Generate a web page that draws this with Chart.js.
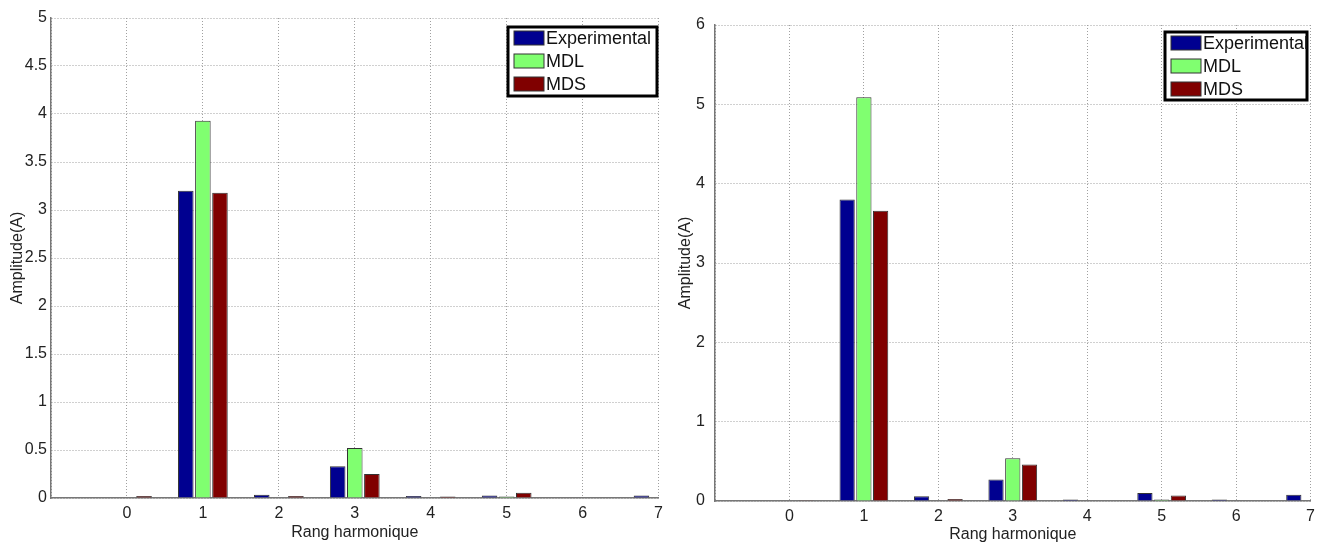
<!DOCTYPE html>
<html>
<head>
<meta charset="utf-8">
<script src="https://cdn.jsdelivr.net/npm/chart.js@4.4.1/dist/chart.umd.min.js"></script>
<style>
  html, body { margin: 0; padding: 0; background: #fff; }
  #wrap { position: relative; width: 1321px; height: 544px; }
  .box { position: absolute; top: 0; height: 544px; }
</style>
</head>
<body>
<div id="wrap">
  <div class="box" style="left:0;width:669px"><canvas id="left"></canvas></div>
  <div class="box" style="left:660px;width:661px"><canvas id="right"></canvas></div>
</div>
<script>
const harmonics = [0, 1, 2, 3, 4, 5, 6, 7];
const seriesNames = ['Experimental', 'MDL', 'MDS'];
const seriesColors = ['#000090', '#80ff70', '#800000'];

// left figure
const expLeft = [0.005, 3.2, 0.035, 0.33, 0.02, 0.025, 0.005, 0.025];
const mdlLeft = [0.005, 3.93, 0.005, 0.52, 0.005, 0.015, 0.005, 0.005];
const mdsLeft = [0.02, 3.18, 0.02, 0.25, 0.015, 0.055, 0.005, 0.005];
const yMaxLeft = 5, yStepLeft = 0.5;

// right figure
const expRight = [0.005, 3.8, 0.06, 0.27, 0.02, 0.1, 0.02, 0.08];
const mdlRight = [0.005, 5.09, 0.005, 0.54, 0.005, 0.02, 0.005, 0.005];
const mdsRight = [0.01, 3.66, 0.025, 0.46, 0.005, 0.07, 0.005, 0.005];
const yMaxRight = 6, yStepRight = 1;

const FONT = "'Liberation Sans', Arial, sans-serif";

// MATLAB-like legend: white box with a heavy black frame inside the axes
const boxLegend = {
  id: 'boxLegend',
  afterDraw(chart, args, o) {
    const ctx = chart.ctx;
    ctx.save();
    ctx.fillStyle = '#fff';
    ctx.fillRect(o.x, o.y, o.w, o.h);
    ctx.lineWidth = 3;
    ctx.strokeStyle = '#000';
    ctx.strokeRect(o.x, o.y, o.w, o.h);
    ctx.font = `${o.size}px ${FONT}`;
    ctx.textBaseline = 'middle';
    chart.data.datasets.forEach((ds, i) => {
      const cy = o.y + o.first + i * o.gap;
      ctx.fillStyle = ds.backgroundColor;
      ctx.fillRect(o.x + 6, cy - 7, 30, 14);
      ctx.lineWidth = 1;
      ctx.strokeStyle = '#333';
      ctx.strokeRect(o.x + 6, cy - 7, 30, 14);
      ctx.fillStyle = '#111';
      ctx.fillText(ds.label, o.x + 38, cy + 1);
    });
    ctx.restore();
  }
};

function makeChart(id, series, yMax, yStep, box, legend) {
  const datasets = series.map((vals, i) => ({
    label: seriesNames[i],
    data: harmonics.map((h, k) => ({ x: h, y: vals[k] })),
    backgroundColor: seriesColors[i],
    borderColor: '#333',
    borderWidth: 1,
    categoryPercentage: 0.675,
    barPercentage: 0.91
  }));
  const gridCol = '#a0a0a0';
  return new Chart(document.getElementById(id), {
    type: 'bar',
    data: { datasets },
    plugins: [boxLegend],
    options: {
      responsive: true,
      maintainAspectRatio: false,
      animation: false,
      layout: { padding: box.pad },
      plugins: {
        legend: { display: false },
        tooltip: { enabled: false },
        boxLegend: legend
      },
      scales: {
        x: {
          type: 'linear',
          offset: false,
          min: -1,
          max: 7,
          ticks: {
            stepSize: 1,
            color: '#222',
            padding: box.xTickPad,
            font: { family: FONT, size: 16 },
            callback: v => (v < 0 ? '' : v)
          },
          grid: { color: gridCol, drawTicks: false, offset: false },
          border: { color: '#777', width: 1.5, dash: [1, 2] },
          title: {
            display: true,
            text: 'Rang harmonique',
            color: '#222',
            font: { family: FONT, size: 16 },
            padding: { top: 0, bottom: box.xTitlePad }
          },
          afterFit: s => { s.height = box.xH; }
        },
        y: {
          min: 0,
          max: yMax,
          ticks: {
            stepSize: yStep,
            color: '#222',
            padding: box.yTickPad,
            font: { family: FONT, size: 16 },
            callback: v => String(Math.round(v * 10) / 10)
          },
          grid: { color: gridCol, drawTicks: false },
          border: { color: '#777', width: 1.5, dash: [1, 2] },
          title: {
            display: true,
            text: 'Amplitude(A)',
            color: '#222',
            font: { family: FONT, size: 16 },
            padding: { top: box.yTitlePad, bottom: 0 }
          },
          afterFit: s => { s.width = box.yW; }
        }
      }
    }
  });
}

makeChart('left', [expLeft, mdlLeft, mdsLeft], yMaxLeft, yStepLeft,
  { pad: { top: 18, right: 2, left: 0, bottom: 0 }, xH: 46, yW: 51, xTickPad: 6, yTickPad: 4, xTitlePad: 2, yTitlePad: 8 },
  { x: 508, y: 27, w: 149, h: 69, first: 11, gap: 23, size: 18 });

makeChart('right', [expRight, mdlRight, mdsRight], yMaxRight, yStepRight,
  { pad: { top: 25, right: 10, left: 0, bottom: 0 }, xH: 43, yW: 55, xTickPad: 6, yTickPad: 10, xTitlePad: 0, yTitlePad: 16 },
  { x: 505, y: 32, w: 142, h: 68, first: 11, gap: 23, size: 18 });
</script>
</body>
</html>
